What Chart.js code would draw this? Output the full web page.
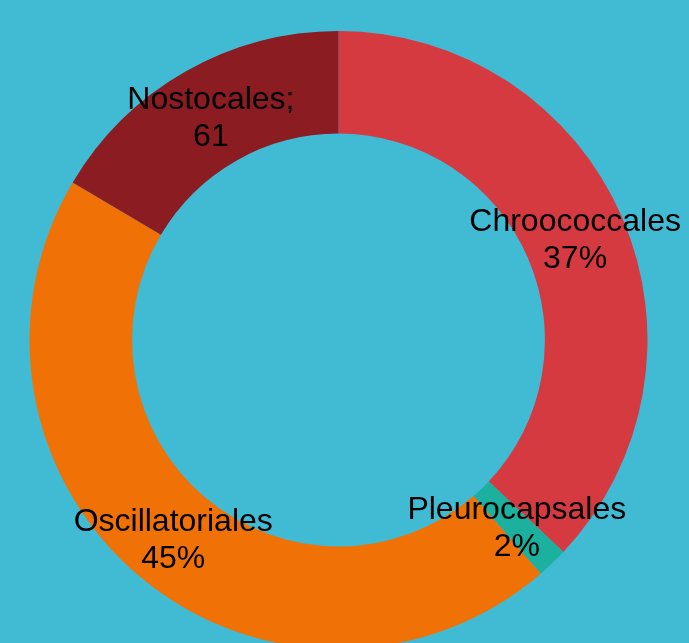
<!DOCTYPE html>
<html>
<head>
<meta charset="utf-8">
<script src="https://cdn.jsdelivr.net/npm/chart.js@4"></script>
<style>
  html, body { margin: 0; padding: 0; background: #41BAD4; overflow: hidden; width: 689px; height: 643px; }
  #wrap { position: absolute; left: 0; top: 0; width: 689px; height: 660px; }
</style>
</head>
<body>
<div id="wrap"><canvas id="c"></canvas></div>
<script>
const categories = ['Chroococcales', 'Pleurocapsales', 'Oscillatoriales', 'Nostocales'];
const values = [137, 6, 166, 61];
const labelNames = ['Chroococcales', 'Pleurocapsales', 'Oscillatoriales', 'Nostocales;'];
const labelValues = ['37%', '2%', '45%', '61'];
const colors = ['#D63A41', '#1CB09E', '#F07106', '#8A1C22'];

const labelPlugin = {
  id: 'sliceLabels',
  afterDatasetsDraw(chart) {
    const ctx = chart.ctx;
    const meta = chart.getDatasetMeta(0);
    ctx.save();
    ctx.font = '32px "Liberation Sans", Arial, sans-serif';
    ctx.fillStyle = '#000';
    ctx.textAlign = 'center';
    ctx.textBaseline = 'middle';
    meta.data.forEach((arc, i) => {
      const p = arc.tooltipPosition();
      ctx.fillText(labelNames[i], p.x, p.y - 16);
      ctx.fillText(labelValues[i], p.x, p.y + 21);
    });
    ctx.restore();
  }
};

new Chart(document.getElementById('c'), {
  type: 'doughnut',
  data: {
    labels: categories,
    datasets: [{
      data: values,
      backgroundColor: colors,
      borderWidth: 0
    }]
  },
  options: {
    responsive: true,
    maintainAspectRatio: false,
    animation: false,
    cutout: '66.8%',
    layout: { padding: { top: 31, left: 29, right: 41, bottom: 11 } },
    plugins: { legend: { display: false }, tooltip: { enabled: false } }
  },
  plugins: [labelPlugin]
});
</script>
</body>
</html>
